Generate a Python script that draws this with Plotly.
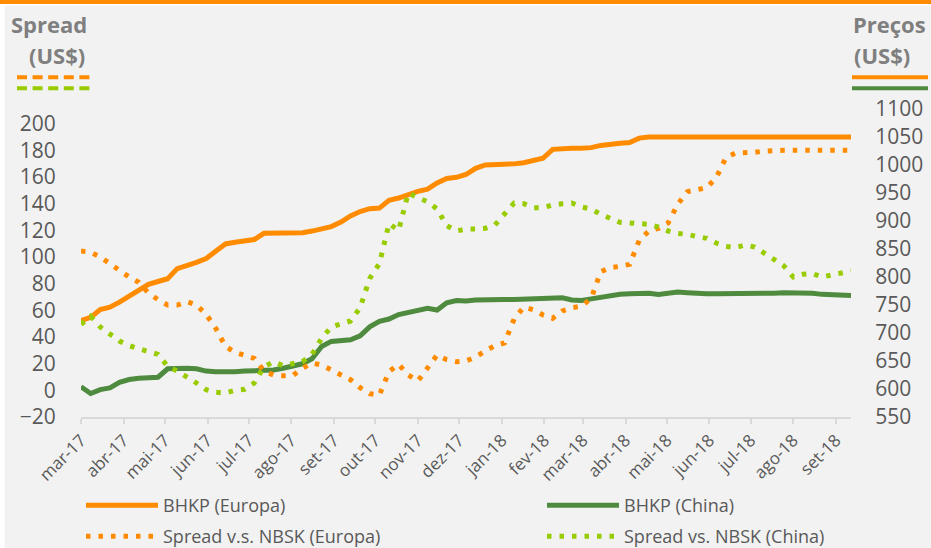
import pandas as pd
import plotly.graph_objects as go

# ---------------- data ----------------
dates = pd.date_range("2017-03-03", periods=81, freq="7D")

bhkp_europa = [722, 728, 742, 746, 755, 765, 775, 787, 792, 797, 815, 820, 826, 833, 845, 859, 862, 864, 867, 878, 878,
               879, 879, 879, 882, 885, 890, 898, 909, 917, 922, 923, 937, 941, 948, 953, 957, 968, 976, 978, 983,
               994, 1000, 1000, 1000, 1002, 1004, 1008, 1012, 1028, 1030, 1030, 1030, 1031, 1035, 1038, 1039, 1040, 1048,
               1050, 1050, 1050, 1050, 1050, 1050, 1050, 1050, 1050, 1050, 1050, 1050, 1050, 1050, 1050, 1050, 1050,
               1050, 1050, 1050, 1050, 1050]

bhkp_china = [604, 592, 599, 602, 612, 617, 619, 620, 621, 636, 637, 637, 636, 632, 631, 630, 631, 632, 632, 632, 634,
              637, 640, 645, 654, 676, 685, 687, 688, 695, 711, 721, 725, 733, 736, 740, 744, 741, 754, 758, 757,
              759, 760, 760, 760, 760, 761, 762, 762, 763, 763, 759, 758, 761, 764, 768, 769, 770, 771, 771, 769,
              771, 773, 772, 770, 770, 770, 770, 770, 769, 769, 770, 771, 772, 772, 772, 771, 769, 768, 766, 767]

spread_europa = [104.5, 103.5, 100, 95, 89.5, 85, 81, 73, 68, 64, 64, 66.5, 64, 57, 46.5, 33, 28.5, 26, 24, 14.5, 11.5,
                 11, 11, 16.5, 20.5, 19, 15.5, 12, 8, 2, -2.5, -3.5, 14, 19.5, 11.5, 7, 17.5, 26.5, 23, 21.5, 22,
                 25, 29.5, 33.5, 35.5, 53.5, 62.5, 60.5, 56.5, 54, 59.5, 62, 63, 69, 89, 92, 93, 94.5, 112.5, 119.5, 121.5,
                 125.5, 139.5, 149, 150.5, 152, 159.5, 174.5, 178, 178, 178.5, 179.5, 180, 180, 180, 180, 180, 180,
                 180, 180, 180, 180]

spread_china = [49.5, 55.5, 47.5, 42.5, 37, 33.5, 31, 29, 27, 18, 14.5, 10.5, 5.5, 0.5, -1.5, -2, 0, 0.8, 5.5, 17.5, 21.5,
                18.5, 20, 21.5, 27, 39, 47.5, 50, 52, 62, 84, 95, 125, 120, 148, 144.5, 141.5, 136, 123.5, 119.5, 121,
                121, 121.5, 124, 132.5, 140.5, 140, 137, 137, 139, 140, 140.5, 137.5, 136, 132, 128.5, 126, 125.5, 125,
                124.5, 122.5, 119.5, 117.7, 117, 115.3, 114, 110.5, 108, 107, 109, 107.5, 103, 98.5, 93.5, 85, 87,
                87.5, 85, 86.5, 88, 89.5]

month_labels = ["mar-17", "abr-17", "mai-17", "jun-17", "jul-17", "ago-17", "set-17", "out-17", "nov-17",
                "dez-17", "jan-18", "fev-18", "mar-18", "abr-18", "mai-18", "jun-18", "jul-18", "ago-18", "set-18"]
spread_ticks = list(range(-20, 201, 20))

# ---------------- style ----------------
W, H = 931, 548
ML, MR, MT, MB = 81, 80, 109, 131
PW, PH = W - ML - MR, H - MT - MB

ORANGE = "#FF8C00"
DGREEN = "#4E8B3F"
LGREEN = "#99CC00"
TXT = "#595959"
TITLE = "#7F7F7F"
FONT = "Open Sans"
DOT = "4.5px,8px"


def px(x):
    return (x - ML) / PW


def py(y):
    return (H - MB - y) / PH


month_ticks = pd.date_range(dates[0], periods=len(month_labels), freq=pd.DateOffset(months=1))

fig = go.Figure()
fig.add_trace(go.Scatter(x=dates, y=bhkp_europa, name="BHKP (Europa)", mode="lines", yaxis="y",
                         line=dict(color=ORANGE, width=5), legend="legend"))
fig.add_trace(go.Scatter(x=dates, y=bhkp_china, name="BHKP (China)", mode="lines", yaxis="y",
                         line=dict(color=DGREEN, width=5), legend="legend2"))
fig.add_trace(go.Scatter(x=dates, y=spread_europa, name="Spread v.s. NBSK (Europa)", mode="lines", yaxis="y2",
                         line=dict(color=ORANGE, width=5, dash=DOT), legend="legend3"))
fig.add_trace(go.Scatter(x=dates, y=spread_china, name="Spread vs. NBSK (China)", mode="lines", yaxis="y2",
                         line=dict(color=LGREEN, width=5, dash=DOT), legend="legend4"))

shapes = [
    # top orange band
    dict(type="rect", xref="paper", yref="paper", x0=px(0), x1=px(W), y0=py(4), y1=py(0),
         fillcolor=ORANGE, line=dict(width=0), layer="above"),
    dict(type="rect", xref="paper", yref="paper", x0=px(0), x1=px(W), y0=py(5.5), y1=py(4),
         fillcolor="white", line=dict(width=0), layer="above"),
    dict(type="rect", xref="paper", yref="paper", x0=px(0), x1=px(4.5), y0=py(H), y1=py(5),
         fillcolor="white", line=dict(width=0), layer="above"),
    # axis-title keys
    dict(type="line", xref="paper", yref="paper", x0=px(17), x1=px(94), y0=py(77.3), y1=py(77.3),
         line=dict(color=ORANGE, width=4, dash="10px,5.6px")),
    dict(type="line", xref="paper", yref="paper", x0=px(17), x1=px(94), y0=py(88.3), y1=py(88.3),
         line=dict(color=LGREEN, width=4, dash="10px,5.6px")),
    dict(type="line", xref="paper", yref="paper", x0=px(852), x1=px(928), y0=py(77.3), y1=py(77.3),
         line=dict(color=ORANGE, width=4)),
    dict(type="line", xref="paper", yref="paper", x0=px(852), x1=px(928), y0=py(88.3), y1=py(88.3),
         line=dict(color=DGREEN, width=4)),
]

annotations = [
    dict(text="<b>Spread</b>", x=px(49), y=py(24), xanchor="center", yanchor="middle"),
    dict(text="<b>(US$)</b>", x=px(57), y=py(55), xanchor="center", yanchor="middle"),
    dict(text="<b>Preços</b>", x=px(889.5), y=py(24), xanchor="center", yanchor="middle"),
    dict(text="<b>(US$)</b>", x=px(881.5), y=py(55), xanchor="center", yanchor="middle"),
]
for a in annotations:
    a.update(xref="paper", yref="paper", showarrow=False, font=dict(family=FONT, size=22, color=TITLE))


def leg(xpix, ypix):
    return dict(orientation="h", xref="container", yref="container", x=xpix / W, y=1 - ypix / H,
                xanchor="left", yanchor="middle", itemwidth=72, bgcolor="rgba(0,0,0,0)",
                font=dict(family=FONT, size=18, color=TXT))


fig.update_layout(
    width=W, height=H,
    margin=dict(l=ML, r=MR, t=MT, b=MB, autoexpand=False),
    paper_bgcolor="#F2F2F2", plot_bgcolor="#F2F2F2",
    font=dict(family=FONT, color=TXT),
    showlegend=True,
    legend=leg(81, 505.5),
    legend2=leg(542, 505.5),
    legend3=leg(81, 536.5),
    legend4=leg(542, 536.5),
    shapes=shapes, annotations=annotations,
    xaxis=dict(type="date", range=[dates[0], dates[-1]], tickvals=month_ticks, ticktext=month_labels,
               tickangle=-45, tickfont=dict(family=FONT, size=17, color=TXT),
               showline=True, linecolor="#D9D9D9", linewidth=1.5,
               ticks="outside", ticklen=5, tickcolor="#D9D9D9", tickwidth=1.5,
               showgrid=False, zeroline=False),
    yaxis=dict(side="right", range=[550, 1100], tick0=550, dtick=50,
               tickfont=dict(family=FONT, size=21, color=TXT),
               ticks="outside", ticklen=19, tickcolor="rgba(0,0,0,0)",
               showgrid=False, zeroline=False, showline=False),
    yaxis2=dict(side="left", overlaying="y", range=[-20, 211], tickvals=spread_ticks,
                tickfont=dict(family=FONT, size=21, color=TXT),
                ticks="outside", ticklen=20, tickcolor="rgba(0,0,0,0)",
                showgrid=False, zeroline=False, showline=False),
)

fig.write_html("out.html", config={"displayModeBar": False},
               post_script="document.body.style.margin='0px';document.body.style.overflow='hidden';")
